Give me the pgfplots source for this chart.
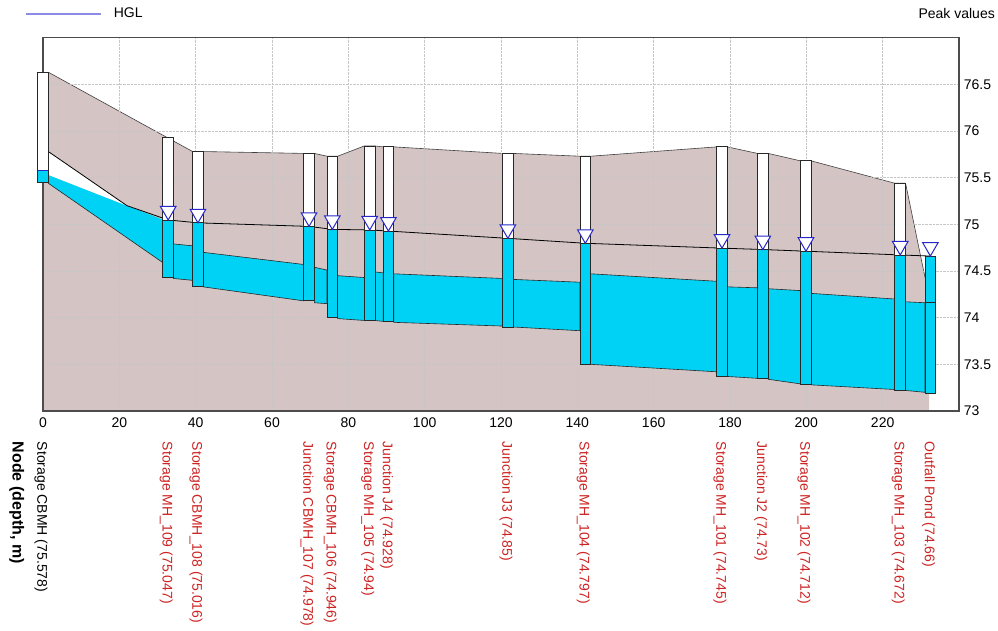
\documentclass[border=0pt]{standalone}
\usepackage{pgfplots}
\pgfplotsset{compat=1.18}
\usepackage{fontspec}
\setmainfont{Liberation Sans}
\definecolor{ground}{RGB}{212,196,196}
\definecolor{water}{RGB}{0,210,245}
\definecolor{edge}{RGB}{40,40,40}
\definecolor{tri}{RGB}{40,40,200}
\definecolor{labred}{RGB}{205,35,35}
\definecolor{hglleg}{RGB}{140,140,230}
% node box: xleft, xright, invert, water level, rim
\newcommand{\nodebox}[5]{%
  \addplot[fill=white, draw=edge, line width=0.8bp] coordinates {(#1,#4) (#2,#4) (#2,#5) (#1,#5)} -- cycle;
  \addplot[fill=water, draw=edge, line width=0.8bp] coordinates {(#1,#3) (#2,#3) (#2,#4) (#1,#4)} -- cycle;
}
% conduit: xleft, bottom left, top left, xright, bottom right, top right
\newcommand{\conduit}[6]{%
  \addplot[fill=water, draw=edge, line width=0.6bp] coordinates {(#1,#2) (#4,#5) (#4,#6) (#1,#3)} -- cycle;
}
\begin{document}
\fontsize{14bp}{17bp}\selectfont
\begin{tikzpicture}
\begin{axis}[
  set layers, clip=false,
  scale only axis, width=916bp, height=373.3bp,
  xmin=0, xmax=240, ymin=73, ymax=77,
  xtick={0,20,40,60,80,100,120,140,160,180,200,220},
  ytick={73,73.5,74,74.5,75,75.5,76,76.5},
  yticklabel pos=right,
  major tick length=0pt,
  /pgf/number format/assume math mode=true,
  grid=major,
  grid style={densely dotted, draw=gray!45, line width=0.5bp},
  axis line style={draw=black!70, line width=1.2bp},
  xticklabel style={yshift=-2bp},
  extra x ticks={0,32.8,40.6,69.7,75.8,85.6,90.5,121.8,142.1,177.9,188.6,199.9,224.6,232.5},
  extra x tick labels={{\color{black}Storage CBMH (75.578)},Storage MH\_109 (75.047),Storage CBMH\_108 (75.016),Junction CBMH\_107 (74.978),Storage CBMH\_106 (74.946),Storage MH\_105 (74.94),Junction J4 (74.928),Junction J3 (74.85),Storage MH\_104 (74.797),Storage MH\_101 (74.745),Junction J2 (74.73),Storage MH\_102 (74.712),Storage MH\_103 (74.672),Outfall Pond (74.66)},
  extra x tick style={grid=none, major tick length=0pt,
    tick label style={yshift=-30.7bp, rotate=-90, anchor=west, inner sep=0pt, text=labred}},
  legend style={draw=none, fill=none, at={(rel axis cs:0,1)}, anchor=west,
    xshift=-18bp, yshift=23.7bp, inner sep=0pt, nodes={inner sep=0pt}},
  legend image code/.code={\draw[#1] (0bp,0bp) -- (75bp,0bp); \path (87bp,0bp);},
]
\addlegendimage{hglleg, line width=1.6bp}
\addlegendentry{HGL}

% ground profile
\addplot[on layer=axis background, fill=ground, draw=none] coordinates {
 (0,73) (0,76.63) (1.4,76.63) (39.2,75.78) (42.0,75.78) (68.3,75.76) (71.1,75.76)
 (74.4,75.73) (77.2,75.73) (84.2,75.84) (87.0,75.84) (89.1,75.83) (91.9,75.83)
 (120.4,75.76) (123.2,75.76) (140.7,75.73) (143.5,75.73) (176.5,75.83) (179.3,75.83)
 (187.2,75.76) (190.0,75.76) (198.5,75.68) (201.3,75.68) (223.2,75.44) (226.0,75.44)
 (231.1,74.43) (232.2,74.43) (232.2,73)} -- cycle;
\addplot[on layer=axis background, draw=black!75, line width=0.6bp] coordinates {
 (1.4,76.63) (39.2,75.78) (42.0,75.78) (68.3,75.76) (71.1,75.76)
 (74.4,75.73) (77.2,75.73) (84.2,75.84) (87.0,75.84) (89.1,75.83) (91.9,75.83)
 (120.4,75.76) (123.2,75.76) (140.7,75.73) (143.5,75.73) (176.5,75.83) (179.3,75.83)
 (187.2,75.76) (190.0,75.76) (198.5,75.68) (201.3,75.68) (223.2,75.44) (226.0,75.44)
 (231.1,74.43)};

% conduits
\addplot[fill=water, draw=none] coordinates {(1.4,75.44) (31.4,74.59) (31.4,75.05) (22,75.2) (1.4,75.53)} -- cycle;
\addplot[draw=edge, line width=0.6bp] coordinates {(1.4,75.44) (31.4,74.59)};
\addplot[fill=white, draw=none] coordinates {(1.4,75.53) (22,75.2) (1.4,75.78)} -- cycle;
\conduit{34.2}{74.42}{74.79}{39.2}{74.40}{74.77}
\conduit{42.0}{74.33}{74.70}{68.3}{74.18}{74.57}
\conduit{71.1}{74.16}{74.54}{74.4}{74.15}{74.51}
\conduit{77.2}{73.99}{74.45}{84.2}{73.97}{74.43}
\conduit{87.0}{73.97}{74.49}{89.1}{73.96}{74.48}
\conduit{91.9}{73.95}{74.47}{120.4}{73.91}{74.42}
\conduit{123.2}{73.90}{74.41}{140.7}{73.86}{74.38}
\conduit{143.5}{73.50}{74.47}{176.5}{73.42}{74.39}
\conduit{179.3}{73.37}{74.33}{187.2}{73.35}{74.32}
\conduit{190.0}{73.34}{74.31}{198.5}{73.29}{74.29}
\conduit{201.3}{73.28}{74.26}{223.2}{73.23}{74.20}
\conduit{226.0}{73.22}{74.17}{231.1}{73.20}{74.16}

% HGL
\addplot[black, line width=0.8bp] coordinates {
 (1.4,75.78) (22,75.2) (32.8,75.047) (40.6,75.016) (69.7,74.978) (75.8,74.946)
 (85.6,74.94) (90.5,74.928) (121.8,74.85) (142.1,74.797) (177.9,74.745) (188.6,74.73)
 (199.9,74.712) (224.6,74.672) (232.5,74.66)};

% nodes
\nodebox{-1.4}{1.4}{75.45}{75.578}{76.63}
\addplot[tri, line width=1.2bp] coordinates {(-1.4,75.578) (1.4,75.578)};
\nodebox{31.4}{34.2}{74.43}{75.047}{75.93}
\nodebox{39.2}{42.0}{74.33}{75.016}{75.78}
\nodebox{68.3}{71.1}{74.18}{74.978}{75.76}
\nodebox{74.4}{77.2}{74.00}{74.946}{75.73}
\nodebox{84.2}{87.0}{73.97}{74.94}{75.84}
\nodebox{89.1}{91.9}{73.96}{74.928}{75.83}
\nodebox{120.4}{123.2}{73.90}{74.85}{75.76}
\nodebox{140.7}{143.5}{73.50}{74.797}{75.73}
\nodebox{176.5}{179.3}{73.37}{74.745}{75.83}
\nodebox{187.2}{190.0}{73.35}{74.73}{75.76}
\nodebox{198.5}{201.3}{73.29}{74.712}{75.68}
\nodebox{223.2}{226.0}{73.22}{74.672}{75.44}
\addplot[fill=water, draw=edge, line width=0.8bp] coordinates {(231.1,73.19) (233.9,73.19) (233.9,74.66) (231.1,74.66)} -- cycle;
\addplot[draw=edge, line width=0.6bp] coordinates {(231.1,74.16) (233.9,74.16)};

% water level markers
\addplot[only marks, mark=triangle*, mark size=9bp,
  mark options={yshift=9bp, rotate=180, draw=tri, fill=white, line width=1bp}] coordinates {
 (32.8,75.047) (40.6,75.016) (69.7,74.978) (75.8,74.946) (85.6,74.94) (90.5,74.928)
 (121.8,74.85) (142.1,74.797) (177.9,74.745) (188.6,74.73) (199.9,74.712) (224.6,74.672) (232.5,74.66)};

\node[anchor=east, inner sep=0pt] at ([xshift=36bp, yshift=23.7bp]rel axis cs:1,1) {Peak values};
\node[rotate=-90, anchor=west, inner sep=0pt, font=\fontsize{16bp}{19bp}\selectfont\bfseries] at ([xshift=-26.3bp, yshift=-30.7bp]rel axis cs:0,0) {Node (depth, m)};
\coordinate (BL) at ([xshift=-43bp, yshift=-220bp]rel axis cs:0,0);
\coordinate (TR) at ([xshift=39bp, yshift=37.7bp]rel axis cs:1,1);
\end{axis}
\pgfresetboundingbox
\path[use as bounding box] (BL) rectangle (TR);
\end{tikzpicture}
\end{document}
